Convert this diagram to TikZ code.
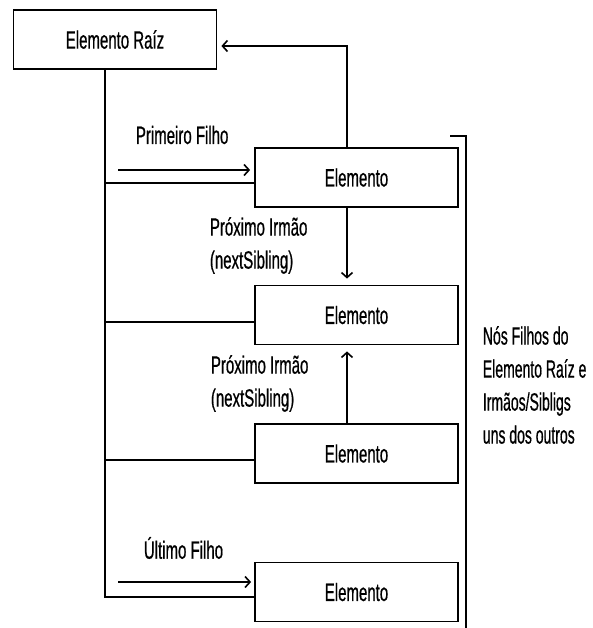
\documentclass[tikz,border=0pt]{standalone}
\usepackage{fontspec}
\setmainfont{Liberation Sans}[FakeStretch=0.6,FakeBold=0.6]
\newfontfamily\narrowfont{Liberation Sans}[FakeStretch=0.56,FakeBold=0.6]
\usetikzlibrary{arrows.meta,calc}
\begin{document}
\begin{tikzpicture}[x=1pt,y=-1pt,
  line width=1.8pt,
  elem/.style={draw, rectangle, minimum width=203pt, minimum height=59pt, inner sep=0pt, font=\fontsize{25}{28}\selectfont},
  lbl/.style={font=\fontsize{25}{33}\selectfont, align=left, inner sep=0pt, anchor=west},
  arr/.style={-{Straight Barb[length=5pt,width=11pt,line width=1.6pt]}}]
\useasboundingbox (0,0) rectangle (593,628);

% element boxes
\node[elem] (root) at (115,39.5) {Elemento Raíz};
\node[elem] (e1) at (356.5,177.5) {Elemento};
\node[elem] (e2) at (356.5,315) {Elemento};
\node[elem] (e3) at (356.5,453.5) {Elemento};
\node[elem] (e4) at (356.5,592) {Elemento};

% branch points slightly below each box's middle
\coordinate (b1) at ([yshift=-5.5pt]e1.west);
\coordinate (b2) at ([yshift=-7pt]e2.west);
\coordinate (b3) at ([yshift=-6.5pt]e3.west);
\coordinate (b4) at ([yshift=-5pt]e4.west);

% spine from the root to every child
\coordinate (spine) at (105,0);
\draw (root.south -| spine) |- (b4);
\draw (b1 -| spine) -- (b1);
\draw (b2 -| spine) -- (b2);
\draw (b3 -| spine) -- (b3);

% first / last child arrows
\coordinate (fa) at (118,170);
\coordinate (la) at (118,582);
\draw[arr, shorten >=4pt] (fa) -- (fa -| e1.west);
\draw[arr, shorten >=3pt] (la) -- (la -| e4.west);

% parent link back to the root
\coordinate (col) at (347,0);
\coordinate (up) at (347,46);
\draw[arr, shorten >=4pt] (col |- e1.north) -- (up) -- (up -| root.east);

% sibling links
\draw[arr, shorten >=6pt] (col |- e1.south) -- (col |- e2.north);
\draw[arr, shorten >=6pt] (col |- e3.north) -- (col |- e2.south);

% bracket around the children
\coordinate (bt) at (450,136);
\coordinate (bb) at (466,630);
\draw (bt) -- (bt -| bb) -- (bb);

% labels
\node[lbl] (l1) at (135,135) {Primeiro Filho};
\node[lbl] (l2) at (209,245.5) {Próximo Irmão\\(nextSibling)};
\node[lbl] (l3) at (210,383.5) {Próximo Irmão\\(nextSibling)};
\node[lbl] (l4) at (143,548) {Último Filho};
\node[lbl, font=\narrowfont\fontsize{25}{33}\selectfont] (l5) at (482,385)
  {Nós Filhos do\\Elemento Raíz e\\Irmãos/Sibligs\\uns dos outros};
\end{tikzpicture}
\end{document}
